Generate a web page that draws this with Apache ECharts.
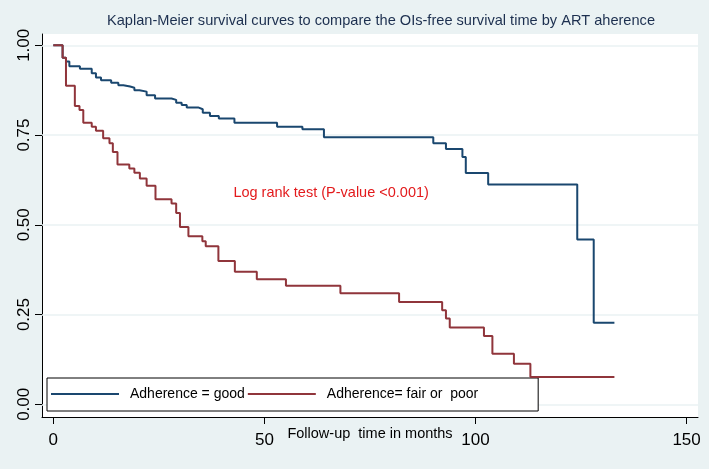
<!DOCTYPE html>
<html>
<head>
<meta charset="utf-8">
<script src="https://cdn.jsdelivr.net/npm/echarts@6/dist/echarts.min.js"></script>
<style>
html,body{margin:0;padding:0;background:#eaf2f3;}
#c{width:709px;height:469px;}
</style>
</head>
<body>
<div id="c"></div>
<script>
// ---- data ----
const titleText = 'Kaplan-Meier survival curves to compare the OIs-free survival time by ART aherence';
const xAxisName = 'Follow-up  time in months';
const annotationText = 'Log rank test (P-value <0.001)';
const annotationPos = [65.8, 0.588];
const seriesNames = ['Adherence = good', 'Adherence= fair or  poor'];
const xTicks = [0, 50, 100, 150];
const yTicks = [0, 0.25, 0.5, 0.75, 1];
const yTickLabels = ['0.00', '0.25', '0.50', '0.75', '1.00'];

const goodTime = [0, 2.2, 3.0, 3.8, 6.3, 9.1, 10.1, 11.3, 13.7, 15.4, 16.6, 18.2, 19.2, 20.4, 22.1, 24.1, 28.0, 29.1, 30.4, 31.6, 34.3, 35.4, 37.1, 39.2, 42.9, 53.0, 59.0, 64.1, 90.0, 93.0, 96.9, 97.7, 103.0, 124.1, 128.0, 132.9];
const goodSurv = [1.0, 0.965, 0.955, 0.942, 0.935, 0.922, 0.910, 0.903, 0.896, 0.889, 0.885, 0.882, 0.875, 0.871, 0.861, 0.852, 0.848, 0.840, 0.834, 0.827, 0.822, 0.812, 0.803, 0.796, 0.784, 0.773, 0.766, 0.744, 0.727, 0.711, 0.689, 0.644, 0.612, 0.459, 0.227, 0.227];

const poorTime = [0, 2.2, 3.0, 5.1, 6.2, 7.1, 9.1, 10.1, 11.8, 13.3, 14.1, 15.2, 18.0, 19.2, 20.5, 22.1, 24.2, 28.0, 29.1, 30.0, 32.0, 35.3, 36.1, 39.1, 43.0, 48.2, 55.1, 68.0, 81.9, 92.1, 93.0, 93.9, 102.0, 104.0, 109.1, 113.0, 132.9];
const poorSurv = [1.0, 0.965, 0.887, 0.831, 0.820, 0.784, 0.773, 0.762, 0.741, 0.727, 0.703, 0.668, 0.657, 0.645, 0.629, 0.609, 0.571, 0.559, 0.533, 0.494, 0.468, 0.454, 0.440, 0.399, 0.369, 0.348, 0.330, 0.309, 0.285, 0.262, 0.239, 0.214, 0.190, 0.141, 0.113, 0.076, 0.076];

const zip = (a, b) => a.map((v, i) => [v, b[i]]);
const FONT = '"Liberation Sans", Arial, sans-serif';

const chart = echarts.init(document.getElementById('c'), null, {renderer: 'canvas'});
chart.setOption({
  animation: false,
  backgroundColor: '#eaf2f3',
  title: {
    text: titleText,
    left: 107, top: 13, padding: 0,
    textStyle: {fontFamily: FONT, fontSize: 14.6, fontWeight: 'normal', color: '#1c2f4f'}
  },
  legend: {
    left: 47, top: 378,
    orient: 'horizontal',
    backgroundColor: '#ffffff',
    borderColor: '#000000', borderWidth: 1,
    padding: [9, 60, 10, 4],
    icon: 'rect',
    itemWidth: 68, itemHeight: 2, itemGap: 3,
    textStyle: {fontFamily: FONT, fontSize: 14, color: '#000', padding: [3, 0, 0, 6]},
    data: seriesNames
  },
  grid: {left: 42, right: 11, top: 34, bottom: 52, show: true, backgroundColor: '#ffffff', borderWidth: 0},
  xAxis: {
    type: 'value', min: -2.68, max: 152.7,
    name: xAxisName, nameLocation: 'middle', nameGap: 9, nameMoveOverlap: false,
    nameTextStyle: {fontFamily: FONT, fontSize: 14.5, color: '#000'},
    axisLine: {show: true, onZero: false, lineStyle: {color: '#000', width: 1}},
    axisTick: {show: true, customValues: xTicks, length: 7, lineStyle: {color: '#000'}},
    axisLabel: {customValues: xTicks, fontFamily: FONT, fontSize: 17, color: '#000', margin: 15},
    splitLine: {show: false}
  },
  yAxis: {
    type: 'value', min: -0.0354, max: 1.0315,
    axisLine: {show: true, onZero: false, lineStyle: {color: '#000', width: 1}},
    axisTick: {show: true, customValues: yTicks, length: 7, lineStyle: {color: '#000'}},
    axisLabel: {customValues: yTicks, rotate: 90, fontFamily: FONT, fontSize: 17, color: '#000', margin: 9,
      formatter: v => yTickLabels[yTicks.findIndex(t => Math.abs(t - v) < 1e-6)] ?? v.toFixed(2)},
    splitLine: {show: false}
  },
  series: [
    {
      name: 'grid', type: 'line', data: [], z: 1, silent: true,
      markLine: {
        z: 1, silent: true, symbol: 'none', animation: false,
        label: {show: false},
        lineStyle: {color: '#eaf2f3', width: 1.5, type: 'solid'},
        data: yTicks.map(v => ({yAxis: v}))
      },
      markPoint: {
        z: 1, silent: true, symbol: 'circle', symbolSize: 0,
        label: {show: true, position: 'inside', formatter: annotationText, fontFamily: FONT, fontSize: 14.5, color: '#e31a1c'},
        data: [{coord: annotationPos}]
      }
    },
    {
      name: seriesNames[0], type: 'line', step: 'end', symbol: 'none', z: 8,
      lineStyle: {color: '#1a476f', width: 2},
      itemStyle: {color: '#1a476f'},
      data: zip(goodTime, goodSurv)
    },
    {
      name: seriesNames[1], type: 'line', step: 'end', symbol: 'none', z: 8,
      lineStyle: {color: '#90353b', width: 2},
      itemStyle: {color: '#90353b'},
      data: zip(poorTime, poorSurv)
    }
  ]
});
</script>
</body>
</html>
